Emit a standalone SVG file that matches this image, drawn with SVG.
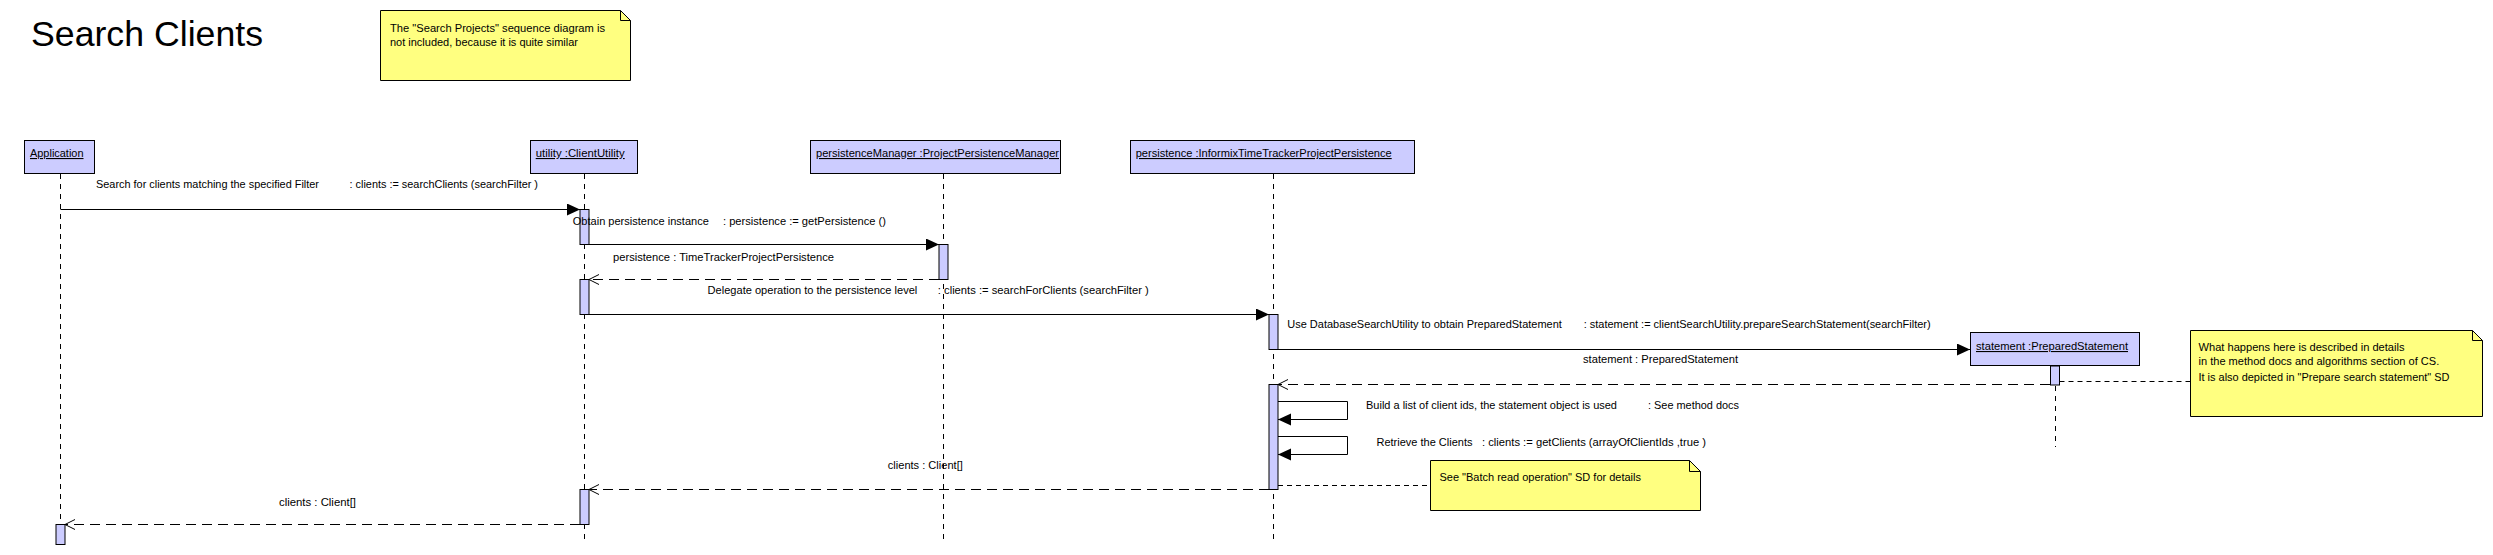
<svg xmlns="http://www.w3.org/2000/svg" width="2493" height="555" viewBox="0 0 2493 555">
<style>
text{font-family:"Liberation Sans",Arial,sans-serif;font-size:11px;fill:#000}
.title{font-size:35px}
.node{fill:#CCCCFF;stroke:#000;stroke-width:1}
.act{fill:#CCCCFF;stroke:#000;stroke-width:1}
.life{stroke:#000;stroke-width:1;stroke-dasharray:5,5;fill:none}
.msg{stroke:#000;stroke-width:1;fill:none}
.ret{stroke:#000;stroke-width:1;fill:none;stroke-dasharray:10,6}
.anc{stroke:#000;stroke-width:1;fill:none;stroke-dasharray:5,4}
.note{fill:#FFFF80;stroke:#000;stroke-width:1}
.fold{fill:none;stroke:#000;stroke-width:1}
.u{text-decoration:underline}
</style>
<defs>
<marker id="filled" markerUnits="userSpaceOnUse" markerWidth="14" markerHeight="13" refX="13" refY="6" orient="auto"><path d="M0,0 L13,6 L0,12 Z" fill="#000"/></marker>
<marker id="open" markerUnits="userSpaceOnUse" markerWidth="12" markerHeight="12" refX="10.5" refY="5.5" orient="auto"><path d="M0.5,0.5 L10.5,5.5 L0.5,10.5" fill="none" stroke="#000" stroke-width="1"/></marker>
</defs>
<rect width="2493" height="555" fill="#fff"/>
<text class="title" x="31" y="46" textLength="232" lengthAdjust="spacingAndGlyphs">Search Clients</text>

<g id="note-search-projects">
<path class="note" d="M380.5,10.5 L620.5,10.5 L630.5,20.5 L630.5,80.5 L380.5,80.5 Z"/>
<path class="fold" d="M620.5,10.5 L620.5,20.5 L630.5,20.5"/>
<text x="390" y="31.7" textLength="215" lengthAdjust="spacingAndGlyphs">The "Search Projects"  sequence diagram is</text>
<text x="390" y="45.7" textLength="188" lengthAdjust="spacingAndGlyphs">not included, because it is quite similar</text>
</g>

<g id="lifelines">
<line class="life" x1="60.5" y1="174" x2="60.5" y2="544"/>
<line class="life" x1="584.5" y1="174" x2="584.5" y2="544"/>
<line class="life" x1="943.5" y1="174" x2="943.5" y2="544"/>
<line class="life" x1="1273.5" y1="174" x2="1273.5" y2="544"/>
<line class="life" x1="2055.5" y1="366" x2="2055.5" y2="447"/>
</g>

<g id="application">
<rect class="node" x="24.5" y="140.5" width="70" height="33"/>
<text class="u" x="30" y="157" textLength="53.5" lengthAdjust="spacingAndGlyphs">Application</text>
<rect class="act" x="56" y="524.5" width="9" height="20"/>
</g>

<g id="utility">
<rect class="node" x="530.5" y="140.5" width="107" height="33"/>
<text class="u" x="535.7" y="157" textLength="89" lengthAdjust="spacingAndGlyphs">utility :ClientUtility</text>
<rect class="act" x="580" y="209.5" width="9" height="35"/>
<rect class="act" x="580" y="279.5" width="9" height="35"/>
<rect class="act" x="580" y="489.5" width="9" height="35"/>
</g>

<g id="persistenceManager">
<rect class="node" x="810.5" y="140.5" width="250" height="33"/>
<text class="u" x="816" y="157" textLength="243" lengthAdjust="spacingAndGlyphs">persistenceManager  :ProjectPersistenceManager</text>
<rect class="act" x="939" y="244.5" width="9" height="35"/>
</g>

<g id="persistence">
<rect class="node" x="1130.5" y="140.5" width="284" height="33"/>
<text class="u" x="1135.7" y="157" textLength="256" lengthAdjust="spacingAndGlyphs">persistence :InformixTimeTrackerProjectPersistence</text>
<rect class="act" x="1269" y="314.5" width="9" height="35"/>
<rect class="act" x="1269" y="384.5" width="9" height="105"/>
</g>

<g id="statement">
<rect class="node" x="1970.5" y="332.5" width="169" height="33"/>
<text class="u" x="1976" y="350" textLength="152" lengthAdjust="spacingAndGlyphs">statement :PreparedStatement</text>
<rect class="act" x="2050.5" y="366" width="9" height="19"/>
</g>

<g id="connectors">
<line class="msg" x1="60.5" y1="209.5" x2="580" y2="209.5" marker-end="url(#filled)"/>
<line class="msg" x1="589" y1="244.5" x2="939" y2="244.5" marker-end="url(#filled)"/>
<line class="ret" x1="939" y1="279.5" x2="589" y2="279.5" marker-end="url(#open)"/>
<line class="msg" x1="589" y1="314.5" x2="1269" y2="314.5" marker-end="url(#filled)"/>
<line class="msg" x1="1278" y1="349.5" x2="1970" y2="349.5" marker-end="url(#filled)"/>
<line class="ret" x1="2050" y1="384.5" x2="1278" y2="384.5" marker-end="url(#open)"/>
<path class="msg" d="M1278,401.5 L1347.5,401.5 L1347.5,419.5 L1278,419.5" marker-end="url(#filled)"/>
<path class="msg" d="M1278,436.5 L1347.5,436.5 L1347.5,454.5 L1278,454.5" marker-end="url(#filled)"/>
<line class="ret" x1="1269" y1="489.5" x2="589" y2="489.5" marker-end="url(#open)"/>
<line class="ret" x1="580" y1="524.5" x2="65" y2="524.5" marker-end="url(#open)"/>
<line class="anc" x1="1278" y1="485.5" x2="1430.5" y2="485.5"/>
<line class="anc" x1="2059.5" y1="381.5" x2="2190.5" y2="381.5"/>
</g>

<g id="labels">
<text x="96" y="188.3" textLength="223" lengthAdjust="spacingAndGlyphs">Search for clients matching the specified Filter</text>
<text x="349.5" y="188.3" textLength="188.5" lengthAdjust="spacingAndGlyphs">: clients := searchClients  (searchFilter )</text>
<text x="572.8" y="224.5" textLength="136" lengthAdjust="spacingAndGlyphs">Obtain persistence instance</text>
<text x="723" y="224.5" textLength="163" lengthAdjust="spacingAndGlyphs">: persistence := getPersistence ()</text>
<text x="613" y="260.5" textLength="221" lengthAdjust="spacingAndGlyphs">persistence  : TimeTrackerProjectPersistence</text>
<text x="707.6" y="294" textLength="209.7" lengthAdjust="spacingAndGlyphs">Delegate operation to the persistence level</text>
<text x="937.8" y="294" textLength="211" lengthAdjust="spacingAndGlyphs">: clients := searchForClients  (searchFilter )</text>
<text x="1287.3" y="327.5" textLength="274.5" lengthAdjust="spacingAndGlyphs">Use DatabaseSearchUtility to obtain PreparedStatement</text>
<text x="1583.7" y="327.5" textLength="347" lengthAdjust="spacingAndGlyphs">: statement := clientSearchUtility.prepareSearchStatement(searchFilter)</text>
<text x="1583" y="362.7" textLength="155" lengthAdjust="spacingAndGlyphs">statement  : PreparedStatement</text>
<text x="1366" y="409.3" textLength="251" lengthAdjust="spacingAndGlyphs">Build a list of client ids, the statement object is used</text>
<text x="1648" y="409.3" textLength="91" lengthAdjust="spacingAndGlyphs">: See method docs</text>
<text x="1376.5" y="445.5" textLength="96" lengthAdjust="spacingAndGlyphs">Retrieve the Clients</text>
<text x="1482" y="445.5" textLength="224" lengthAdjust="spacingAndGlyphs">: clients := getClients  (arrayOfClientIds  ,true )</text>
<text x="887.8" y="469" textLength="75" lengthAdjust="spacingAndGlyphs">clients : Client[]</text>
<text x="279" y="506" textLength="77" lengthAdjust="spacingAndGlyphs">clients : Client[]</text>
</g>

<g id="note-batch-read">
<path class="note" d="M1430.5,460.5 L1689.5,460.5 L1700.5,471.5 L1700.5,510.5 L1430.5,510.5 Z"/>
<path class="fold" d="M1689.5,460.5 L1689.5,471.5 L1700.5,471.5"/>
<text x="1439.5" y="481" textLength="201.5" lengthAdjust="spacingAndGlyphs">See "Batch read operation" SD for details</text>
</g>

<g id="note-prepare-statement">
<path class="note" d="M2190.5,330.5 L2472.5,330.5 L2482.5,340.5 L2482.5,416.5 L2190.5,416.5 Z"/>
<path class="fold" d="M2472.5,330.5 L2472.5,340.5 L2482.5,340.5"/>
<text x="2198.5" y="351" textLength="206" lengthAdjust="spacingAndGlyphs">What happens here is described in details</text>
<text x="2198.5" y="365" textLength="240.7" lengthAdjust="spacingAndGlyphs">in the method docs and algorithms section of CS.</text>
<text x="2198.5" y="381" textLength="251" lengthAdjust="spacingAndGlyphs">It is also depicted in "Prepare search statement" SD</text>
</g>
</svg>
